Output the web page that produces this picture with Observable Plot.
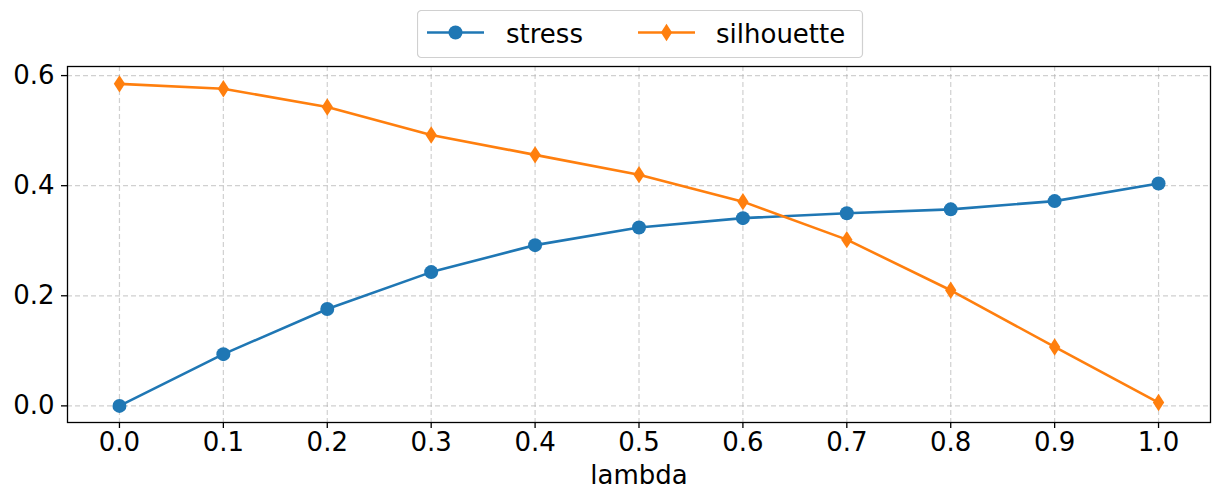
<!DOCTYPE html>
<html>
<head>
<meta charset="utf-8">
<script src="https://cdn.jsdelivr.net/npm/d3@7"></script>
<script src="https://cdn.jsdelivr.net/npm/@observablehq/plot@0.6"></script>
<style>
  html, body { margin: 0; padding: 0; background: #fff; }
  #wrap { position: relative; width: 1214px; height: 495px; font-family: "DejaVu Sans", sans-serif; }
  #legend { position: absolute; left: 417px; top: 10px; }
</style>
</head>
<body>
<div id="wrap">
  <div id="chart"></div>
  <div id="legend"></div>
</div>
<script>
// lambda sweep and the two metrics measured at each step
const lambdas = [0.0, 0.1, 0.2, 0.3, 0.4, 0.5, 0.6, 0.7, 0.8, 0.9, 1.0];
const stress = [0.000, 0.094, 0.176, 0.243, 0.292, 0.324, 0.341, 0.350, 0.357, 0.372, 0.404];
const silhouette = [0.585, 0.576, 0.543, 0.492, 0.456, 0.420, 0.371, 0.302, 0.210, 0.107, 0.006];
const xTicks = [0.0, 0.1, 0.2, 0.3, 0.4, 0.5, 0.6, 0.7, 0.8, 0.9, 1.0];
const yTicks = [0.0, 0.2, 0.4, 0.6];
const seriesNames = ["stress", "silhouette"];
const seriesColors = ["#1f77b4", "#ff7f0e"];

const rows = [
  ...lambdas.map((l, i) => ({lambda: l, value: stress[i], series: "stress"})),
  ...lambdas.map((l, i) => ({lambda: l, value: silhouette[i], series: "silhouette"}))
];

// narrow diamond marker (taller than wide)
const thinDiamond = {
  draw(ctx, size) {
    const h = Math.sqrt(size / Math.PI);
    const w = h * 0.65;
    ctx.moveTo(0, -h);
    ctx.lineTo(w, 0);
    ctx.lineTo(0, h);
    ctx.lineTo(-w, 0);
    ctx.closePath();
  }
};

const fontSize = 26;

const chart = Plot.plot({
  width: 1214,
  height: 495,
  marginLeft: 67,
  marginRight: 4,
  marginTop: 66,
  marginBottom: 73,
  style: {fontFamily: "DejaVu Sans, sans-serif", fontSize: fontSize + "px", color: "#000", background: "#fff"},
  x: {domain: [-0.05, 1.05]},
  y: {domain: [-0.0302, 0.6165]},
  color: {domain: seriesNames, range: seriesColors},
  marks: [
    Plot.gridX(xTicks, {stroke: "#b0b0b0", strokeOpacity: 0.6, strokeDasharray: "5,3", strokeWidth: 1.2}),
    Plot.gridY(yTicks, {stroke: "#b0b0b0", strokeOpacity: 0.6, strokeDasharray: "5,3", strokeWidth: 1.2}),
    Plot.axisX(xTicks, {tickSize: 6, tickPadding: 4, tickFormat: d => d.toFixed(1), label: null, fontSize: fontSize, strokeWidth: 1.3}),
    Plot.axisY(yTicks, {tickSize: 6, tickPadding: 7, tickFormat: d => d.toFixed(1), label: null, fontSize: fontSize, strokeWidth: 1.3}),
    Plot.text(["lambda"], {frameAnchor: "bottom", dy: 61, fontSize: fontSize, fill: "#000"}),
    Plot.line(rows, {x: "lambda", y: "value", stroke: "series", strokeWidth: 2.6}),
    Plot.dot(rows.filter(d => d.series === "stress"), {x: "lambda", y: "value", fill: "series", r: 7, symbol: "circle"}),
    Plot.dot(rows.filter(d => d.series === "silhouette"), {x: "lambda", y: "value", fill: "series", r: 8.7, symbol: thinDiamond}),
    Plot.frame({stroke: "#000", strokeWidth: 1.3})
  ]
});
document.getElementById("chart").appendChild(chart);

// legend box above the frame
const lg = d3.select("#legend").append("svg")
  .attr("width", 447).attr("height", 49)
  .style("font-family", "DejaVu Sans, sans-serif");
lg.append("rect").attr("x", 0.5).attr("y", 0.5).attr("width", 445).attr("height", 47)
  .attr("rx", 4).attr("fill", "#fff").attr("stroke", "#d0d0d0").attr("stroke-width", 1.2);
const entries = [
  {name: seriesNames[0], color: seriesColors[0], x0: 10, tx: 89, shape: "circle"},
  {name: seriesNames[1], color: seriesColors[1], x0: 221, tx: 299, shape: "diamond"}
];
for (const e of entries) {
  const g = lg.append("g");
  g.append("line").attr("x1", e.x0).attr("x2", e.x0 + 57).attr("y1", 22.5).attr("y2", 22.5)
    .attr("stroke", e.color).attr("stroke-width", 2.6);
  const cx = e.x0 + 28.5;
  if (e.shape === "circle") {
    g.append("circle").attr("cx", cx).attr("cy", 22.5).attr("r", 7).attr("fill", e.color);
  } else {
    g.append("path").attr("d", `M${cx},${22.5 - 8.7}L${cx + 5.6},22.5L${cx},${22.5 + 8.7}L${cx - 5.6},22.5Z`).attr("fill", e.color);
  }
  g.append("text").attr("x", e.tx).attr("y", 24).attr("dy", "0.36em")
    .attr("font-size", fontSize).attr("fill", "#000").text(e.name);
}
</script>
</body>
</html>
